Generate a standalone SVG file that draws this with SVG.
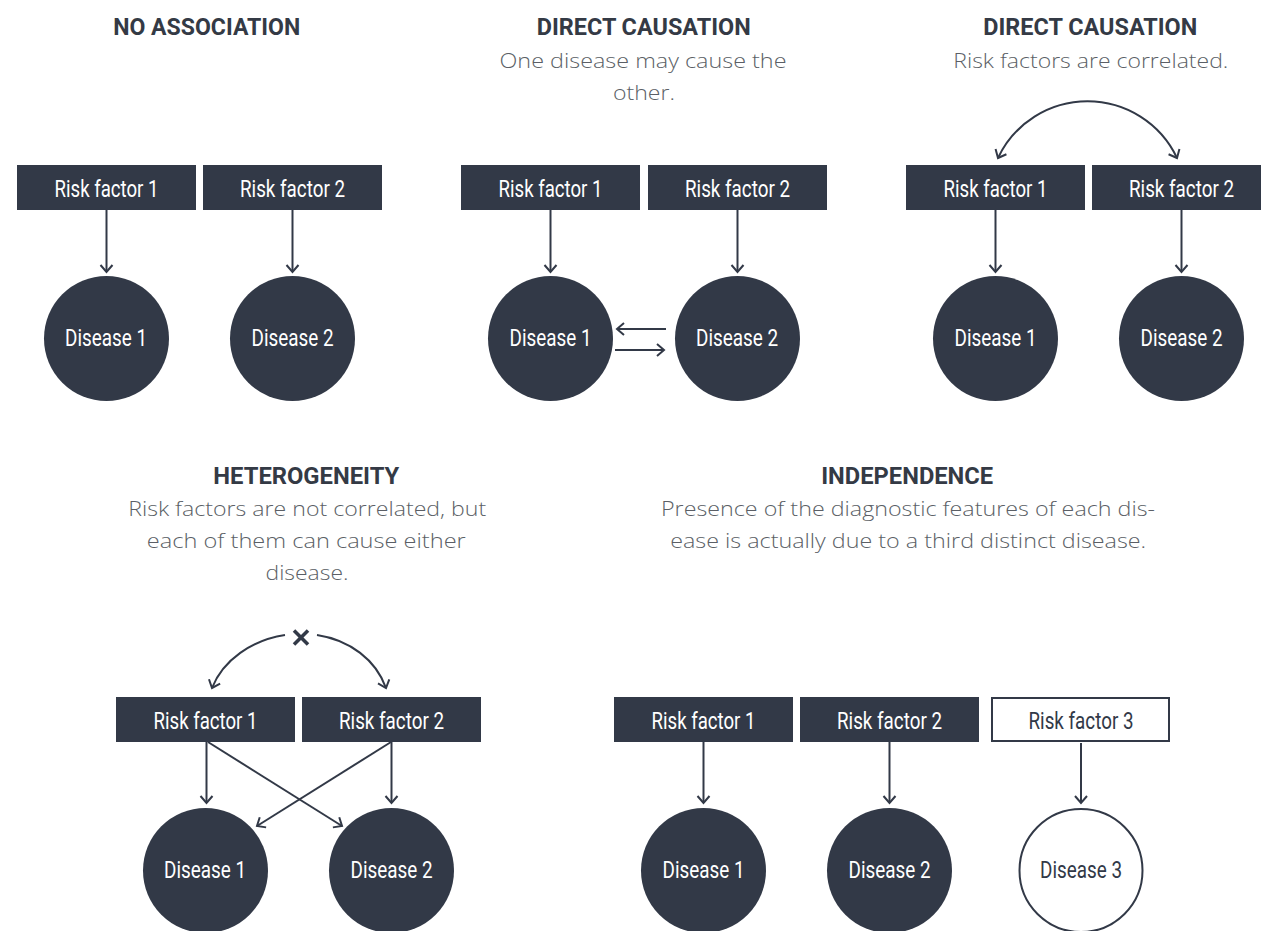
<svg xmlns="http://www.w3.org/2000/svg" width="1261" height="931" viewBox="0 0 1261 931">
  <style>
    .rf { fill: #323947; }
    .rf-open { fill: #ffffff; stroke: #323947; stroke-width: 2; }
    .dz { fill: #323947; }
    .dz-open { fill: #ffffff; stroke: #323947; stroke-width: 2; }
    .lbl { font-family: Roboto, "Liberation Sans", sans-serif; font-size: 23px; fill: #ffffff; text-anchor: middle; }
    .lbl-dark { fill: #323947; }
    .title { font-family: Roboto, "Liberation Sans", sans-serif; font-weight: 700; font-size: 23px; fill: #343a45; text-anchor: middle; }
    .sub { font-family: "Open Sans", "Liberation Sans", sans-serif; font-weight: 300; font-size: 20px; fill: #5b5f66; text-anchor: middle; }
    .conn { fill: none; stroke: #323947; stroke-width: 2; marker-end: url(#arrow); }
    .both { marker-start: url(#arrow); }
    .cross { stroke: #323947; stroke-width: 3.5; stroke-linecap: butt; }
  </style>
  <defs>
    <marker id="arrow" viewBox="-9 -9 18 18" refX="0" refY="0" markerWidth="18" markerHeight="18" markerUnits="userSpaceOnUse" orient="auto-start-reverse">
      <path d="M-7,-6 L0,0 L-7,6" fill="none" stroke="#323947" stroke-width="2"/>
    </marker>
  </defs>

  <rect width="1261" height="931" fill="#ffffff"/>

  <!-- Headings and captions -->
  <g id="captions">
    <text class="title" x="206.7" y="35" textLength="187" lengthAdjust="spacingAndGlyphs">NO ASSOCIATION</text>

    <text class="title" x="643.7" y="35" textLength="214" lengthAdjust="spacingAndGlyphs">DIRECT CAUSATION</text>
    <text class="sub" x="643" y="68" textLength="287" lengthAdjust="spacingAndGlyphs">One disease may cause the</text>
    <text class="sub" x="644" y="99.5" textLength="62" lengthAdjust="spacingAndGlyphs">other.</text>

    <text class="title" x="1090.3" y="35" textLength="214" lengthAdjust="spacingAndGlyphs">DIRECT CAUSATION</text>
    <text class="sub" x="1090.8" y="68" textLength="275" lengthAdjust="spacingAndGlyphs">Risk factors are correlated.</text>

    <text class="title" x="306.3" y="484" textLength="186" lengthAdjust="spacingAndGlyphs">HETEROGENEITY</text>
    <text class="sub" x="307.2" y="516" textLength="358" lengthAdjust="spacingAndGlyphs">Risk factors are not correlated, but</text>
    <text class="sub" x="306.3" y="547.5" textLength="319" lengthAdjust="spacingAndGlyphs">each of them can cause either</text>
    <text class="sub" x="307" y="579.5" textLength="83" lengthAdjust="spacingAndGlyphs">disease.</text>

    <text class="title" x="907.2" y="484" textLength="172" lengthAdjust="spacingAndGlyphs">INDEPENDENCE</text>
    <text class="sub" x="908" y="516" textLength="494" lengthAdjust="spacingAndGlyphs">Presence of the diagnostic features of each dis-</text>
    <text class="sub" x="908.2" y="547.5" textLength="476" lengthAdjust="spacingAndGlyphs">ease is actually due to a third distinct disease.</text>
  </g>

  <!-- Connectors -->
  <g id="connectors">
    <!-- no association -->
    <path class="conn" d="M106.5 210 V272"/>
    <path class="conn" d="M292.5 210 V272"/>
    <!-- direct causation: diseases -->
    <path class="conn" d="M550.5 210 V272"/>
    <path class="conn" d="M737.5 210 V272"/>
    <path class="conn" d="M666 329 H617"/>
    <path class="conn" d="M615 350 H664"/>
    <!-- direct causation: correlated risk factors -->
    <path class="conn both" d="M998 158 A99 99 0 0 1 1177 158"/>
    <path class="conn" d="M995.5 210 V272"/>
    <path class="conn" d="M1181.5 210 V272"/>
    <!-- heterogeneity -->
    <path class="conn" d="M285 635 C252 640 223 660 212 688"/>
    <path class="conn" d="M317 635 C350 640 376 660 386 688"/>
    <line class="cross" x1="294" y1="630.5" x2="308" y2="644.5"/>
    <line class="cross" x1="308" y1="630.5" x2="294" y2="644.5"/>
    <path class="conn" d="M206.5 742 V803"/>
    <path class="conn" d="M391.5 742 V803"/>
    <path class="conn" d="M208 742 L342 826"/>
    <path class="conn" d="M391 742 L257 826"/>
    <!-- independence -->
    <path class="conn" d="M703.5 742 V803"/>
    <path class="conn" d="M889.5 742 V803"/>
    <path class="conn" d="M1081 743 V803"/>
  </g>

  <!-- Panel 1: no association -->
  <g id="na-risk1"><rect class="rf" x="17" y="165" width="179" height="45"/><text class="lbl" x="106.5" y="196.5" textLength="104" lengthAdjust="spacingAndGlyphs">Risk factor 1</text></g>
  <g id="na-risk2"><rect class="rf" x="203" y="165" width="179" height="45"/><text class="lbl" x="292.5" y="196.5" textLength="105" lengthAdjust="spacingAndGlyphs">Risk factor 2</text></g>
  <g id="na-disease1"><circle class="dz" cx="106.5" cy="338.5" r="62.5"/><text class="lbl" x="106" y="345.7" textLength="82" lengthAdjust="spacingAndGlyphs">Disease 1</text></g>
  <g id="na-disease2"><circle class="dz" cx="292.5" cy="338.5" r="62.5"/><text class="lbl" x="292.5" y="345.7" textLength="82" lengthAdjust="spacingAndGlyphs">Disease 2</text></g>

  <!-- Panel 2: direct causation between diseases -->
  <g id="dc-risk1"><rect class="rf" x="461" y="165" width="179" height="45"/><text class="lbl" x="550.5" y="196.5" textLength="104" lengthAdjust="spacingAndGlyphs">Risk factor 1</text></g>
  <g id="dc-risk2"><rect class="rf" x="648" y="165" width="179" height="45"/><text class="lbl" x="737.5" y="196.5" textLength="105" lengthAdjust="spacingAndGlyphs">Risk factor 2</text></g>
  <g id="dc-disease1"><circle class="dz" cx="550.5" cy="338.5" r="62.5"/><text class="lbl" x="550.5" y="345.7" textLength="82" lengthAdjust="spacingAndGlyphs">Disease 1</text></g>
  <g id="dc-disease2"><circle class="dz" cx="737.5" cy="338.5" r="62.5"/><text class="lbl" x="737" y="345.7" textLength="82" lengthAdjust="spacingAndGlyphs">Disease 2</text></g>

  <!-- Panel 3: correlated risk factors -->
  <g id="cr-risk1"><rect class="rf" x="906" y="165" width="179" height="45"/><text class="lbl" x="995.5" y="196.5" textLength="104" lengthAdjust="spacingAndGlyphs">Risk factor 1</text></g>
  <g id="cr-risk2"><rect class="rf" x="1092" y="165" width="179" height="45"/><text class="lbl" x="1181.5" y="196.5" textLength="105" lengthAdjust="spacingAndGlyphs">Risk factor 2</text></g>
  <g id="cr-disease1"><circle class="dz" cx="995.5" cy="338.5" r="62.5"/><text class="lbl" x="995.5" y="345.7" textLength="82" lengthAdjust="spacingAndGlyphs">Disease 1</text></g>
  <g id="cr-disease2"><circle class="dz" cx="1181.5" cy="338.5" r="62.5"/><text class="lbl" x="1181.5" y="345.7" textLength="82" lengthAdjust="spacingAndGlyphs">Disease 2</text></g>

  <!-- Panel 4: heterogeneity -->
  <g id="he-risk1"><rect class="rf" x="116" y="697" width="179" height="45"/><text class="lbl" x="205.5" y="728.5" textLength="104" lengthAdjust="spacingAndGlyphs">Risk factor 1</text></g>
  <g id="he-risk2"><rect class="rf" x="302" y="697" width="179" height="45"/><text class="lbl" x="391.5" y="728.5" textLength="105" lengthAdjust="spacingAndGlyphs">Risk factor 2</text></g>
  <g id="he-disease1"><circle class="dz" cx="205.5" cy="870.5" r="62.5"/><text class="lbl" x="205" y="877.5" textLength="82" lengthAdjust="spacingAndGlyphs">Disease 1</text></g>
  <g id="he-disease2"><circle class="dz" cx="391.5" cy="870.5" r="62.5"/><text class="lbl" x="391.5" y="877.5" textLength="82" lengthAdjust="spacingAndGlyphs">Disease 2</text></g>

  <!-- Panel 5: independence -->
  <g id="in-risk1"><rect class="rf" x="614" y="697" width="179" height="45"/><text class="lbl" x="703.5" y="728.5" textLength="104" lengthAdjust="spacingAndGlyphs">Risk factor 1</text></g>
  <g id="in-risk2"><rect class="rf" x="800" y="697" width="179" height="45"/><text class="lbl" x="889.5" y="728.5" textLength="105" lengthAdjust="spacingAndGlyphs">Risk factor 2</text></g>
  <g id="in-risk3"><rect class="rf-open" x="992" y="698" width="177" height="43"/><text class="lbl lbl-dark" x="1081" y="728.5" textLength="105" lengthAdjust="spacingAndGlyphs">Risk factor 3</text></g>
  <g id="in-disease1"><circle class="dz" cx="703.5" cy="870.5" r="62.5"/><text class="lbl" x="703.5" y="877.5" textLength="82" lengthAdjust="spacingAndGlyphs">Disease 1</text></g>
  <g id="in-disease2"><circle class="dz" cx="889.5" cy="870.5" r="62.5"/><text class="lbl" x="889.5" y="877.5" textLength="82" lengthAdjust="spacingAndGlyphs">Disease 2</text></g>
  <g id="in-disease3"><circle class="dz-open" cx="1081" cy="870.5" r="61.5"/><text class="lbl lbl-dark" x="1081" y="877.5" textLength="82" lengthAdjust="spacingAndGlyphs">Disease 3</text></g>
</svg>
